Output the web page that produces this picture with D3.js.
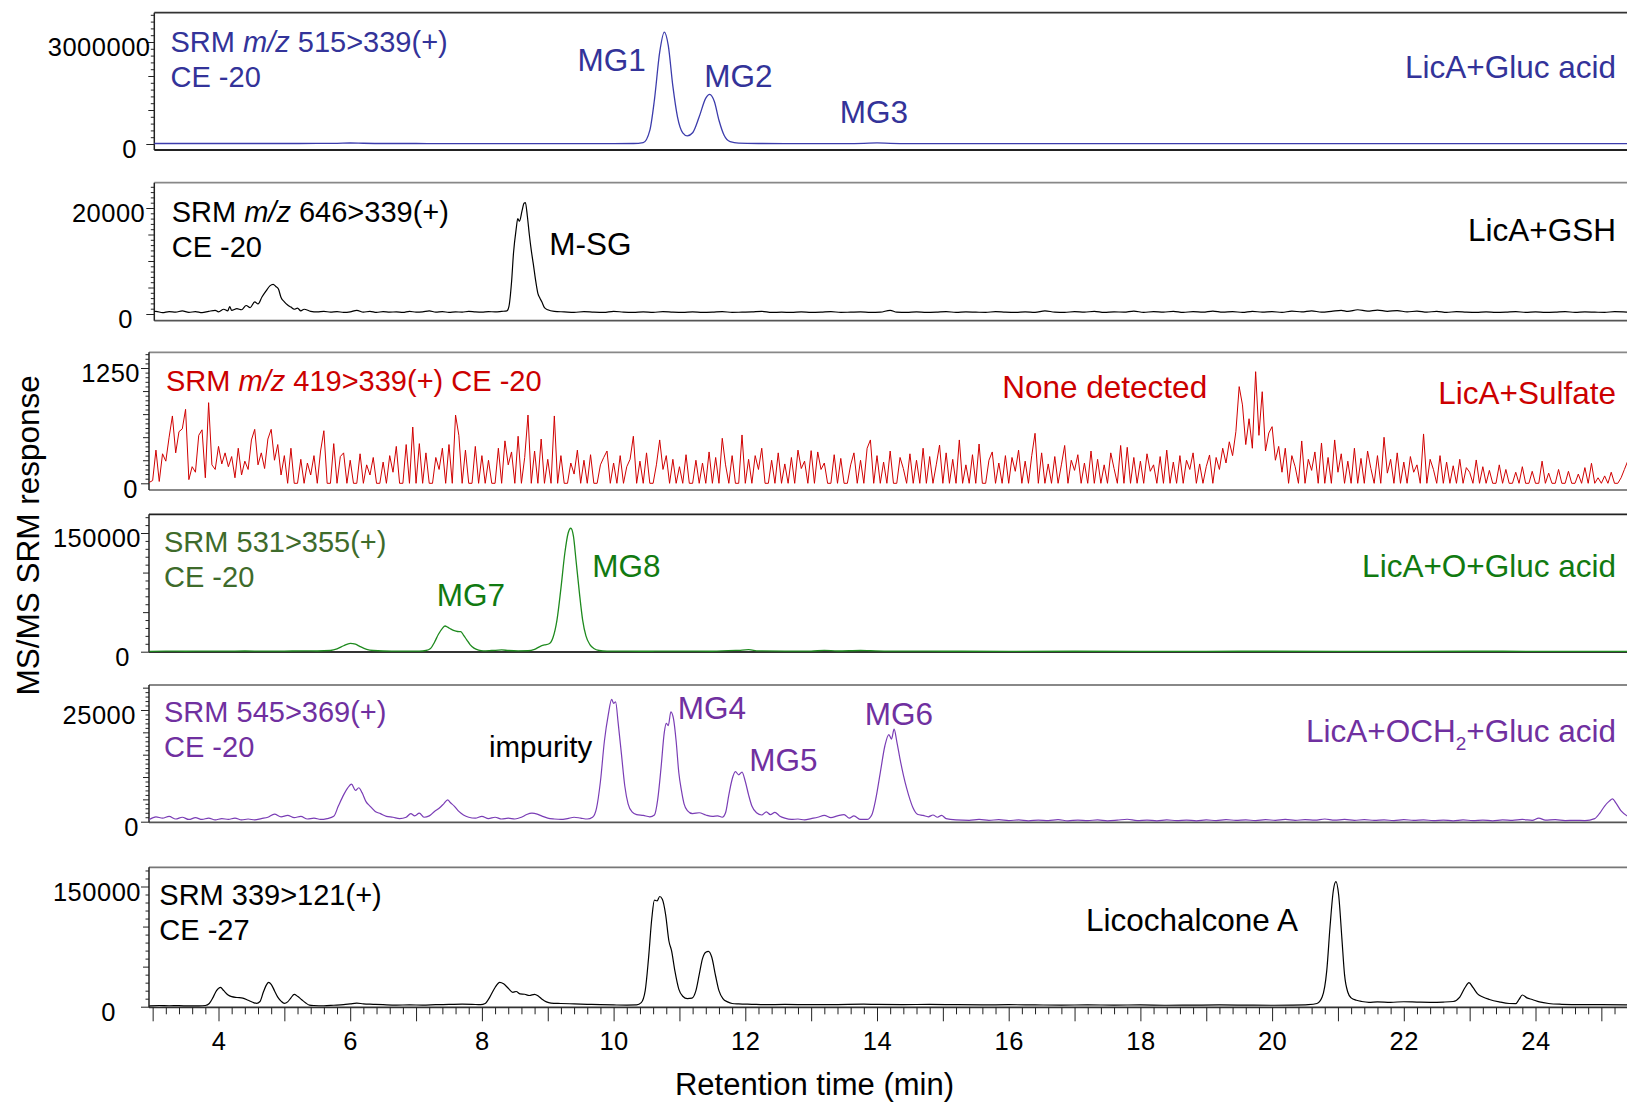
<!DOCTYPE html>
<html>
<head>
<meta charset="utf-8">
<script src="https://cdn.jsdelivr.net/npm/d3@7"></script>
<style>
  html, body { margin: 0; padding: 0; background: #fff; }
  svg { display: block; font-family: "Liberation Sans", Arial, Helvetica, sans-serif; }
</style>
</head>
<body>
<svg id="chart" width="1627" height="1103"></svg>
<script>
// cromatogramas srm: [tempo (min), intensidade]
const glucTrace = [
  [2.95, 15000], [3.5, 14000], [4.0, 15000], [4.5, 14000], [5.0, 15000], [5.5, 16000], [5.8, 20000], [6.0, 30000],
  [6.2, 22000], [6.5, 15000], [7.0, 14000], [7.5, 13000], [8.0, 13000], [8.5, 13000], [9.0, 13000], [9.5, 13000],
  [10.0, 13000], [10.3, 14000], [10.45, 40000], [10.55, 400000], [10.62, 1300000], [10.7, 2700000], [10.77, 3290000],
  [10.83, 2900000], [10.9, 1700000], [10.97, 800000], [11.05, 330000], [11.12, 240000], [11.2, 330000], [11.3, 800000],
  [11.4, 1350000], [11.46, 1460000], [11.53, 1250000], [11.6, 700000], [11.68, 250000], [11.77, 70000], [11.9, 25000],
  [12.2, 15000], [12.6, 12000], [13.0, 12000], [13.5, 13000], [13.8, 20000], [14.0, 32000], [14.2, 20000], [14.5, 12000],
  [15, 10000], [16, 10000], [18, 9000], [20, 9000], [22, 9000], [24, 9000], [25.4, 9000]
];

const gshTrace = [
  [2.95, 300], [3.05, 500], [3.15, 250], [3.25, 450], [3.35, 350], [3.45, 600], [3.55, 300], [3.65, 450], [3.75, 250],
  [3.85, 500], [3.95, 700], [4.0, 400], [4.08, 900], [4.14, 600], [4.17, 1400], [4.2, 700], [4.28, 1000], [4.35, 800],
  [4.42, 1600], [4.48, 1200], [4.55, 2300], [4.6, 1900], [4.66, 3200], [4.72, 4300], [4.78, 5300], [4.83, 5600],
  [4.87, 5200], [4.91, 4700], [4.95, 3100], [5.0, 2300], [5.05, 1700], [5.1, 1300], [5.15, 900], [5.2, 1100], [5.25, 600],
  [5.3, 900], [5.4, 500], [5.5, 400], [5.6, 500], [5.7, 350], [5.8, 450], [5.9, 300], [6.0, 400], [6.1, 700], [6.2, 350],
  [6.3, 500], [6.4, 300], [6.5, 450], [6.6, 350], [6.7, 400], [6.8, 300], [6.9, 500], [7.0, 350], [7.1, 400], [7.2, 600],
  [7.3, 350], [7.4, 450], [7.5, 300], [7.6, 400], [7.7, 350], [7.8, 500], [7.9, 400], [8.0, 350], [8.1, 450], [8.2, 400],
  [8.3, 500], [8.38, 600], [8.41, 1400], [8.45, 6000], [8.48, 11500], [8.52, 16000], [8.545, 18000], [8.57, 17500],
  [8.61, 19500], [8.64, 20900], [8.66, 21000], [8.69, 18500], [8.72, 15000], [8.75, 12000], [8.78, 9500], [8.82, 6000],
  [8.85, 3900], [8.88, 3000], [8.91, 2300], [8.95, 1200], [9.0, 800], [9.1, 500], [9.25, 400], [9.4, 300], [9.55, 450],
  [9.7, 350], [9.85, 300], [10.0, 500], [10.15, 350], [10.3, 300], [10.45, 400], [10.6, 300], [10.75, 450], [10.9, 350],
  [11.05, 300], [11.2, 400], [11.35, 300], [11.5, 350], [11.65, 450], [11.8, 300], [11.95, 350], [12.1, 400], [12.25, 500],
  [12.4, 300], [12.55, 350], [12.7, 300], [12.85, 400], [13.0, 300], [13.15, 350], [13.3, 450], [13.45, 300], [13.6, 350],
  [13.75, 400], [13.9, 300], [14.05, 350], [14.2, 700], [14.3, 350], [14.45, 300], [14.6, 400], [14.75, 300], [14.9, 350],
  [15.05, 450], [15.2, 300], [15.35, 400], [15.5, 350], [15.65, 300], [15.8, 450], [15.95, 350], [16.1, 300], [16.25, 400],
  [16.4, 300], [16.55, 600], [16.7, 350], [16.85, 300], [17.0, 450], [17.15, 350], [17.3, 500], [17.45, 300], [17.6, 400],
  [17.75, 350], [17.9, 550], [18.05, 300], [18.2, 450], [18.35, 350], [18.5, 500], [18.65, 300], [18.8, 450], [18.95, 350],
  [19.1, 550], [19.25, 350], [19.4, 450], [19.55, 300], [19.7, 500], [19.85, 350], [20.0, 450], [20.15, 300], [20.3, 550],
  [20.45, 400], [20.6, 600], [20.75, 350], [20.9, 500], [21.05, 700], [21.15, 500], [21.3, 800], [21.45, 550], [21.6, 750],
  [21.75, 500], [21.9, 650], [22.05, 400], [22.2, 550], [22.35, 350], [22.5, 500], [22.65, 300], [22.8, 450], [22.95, 350],
  [23.1, 300], [23.25, 400], [23.4, 300], [23.55, 350], [23.7, 450], [23.85, 300], [24.0, 400], [24.15, 300], [24.3, 350],
  [24.45, 450], [24.6, 300], [24.75, 400], [24.9, 350], [25.05, 300], [25.2, 450], [25.4, 350]
];

// sulfato: sinal amostrado a cada 0.05 min a partir de 2.95
const SULFATE_T0 = 2.95;
const SULFATE_STEP = 0.05;
const sulfateValues = [
  10,
  30, 360, 20, 320, 240, 500, 730, 330, 560, 590, 802, 40, 180, 120, 520, 580, 60, 874, 200, 150,
  400, 210, 330, 180, 290, 60, 380, 90, 240, 150, 470, 585, 200, 330, 160, 480, 585, 250, 420, 90,
  300, 0, 380, 0, 0, 260, 0, 220, 90, 300, 0, 350, 570, 0, 0, 430, 0, 290, 330, 0,
  250, 0, 0, 320, 0, 200, 90, 280, 0, 0, 230, 0, 300, 120, 400, 0, 0, 420, 0, 610,
  0, 430, 0, 330, 0, 0, 280, 150, 380, 0, 420, 0, 740, 520, 0, 360, 0, 0, 400, 0,
  300, 0, 250, 0, 0, 380, 0, 460, 200, 340, 0, 510, 0, 280, 740, 0, 350, 0, 480, 0,
  260, 0, 730, 0, 300, 0, 0, 220, 100, 360, 0, 250, 0, 310, 0, 0, 200, 280, 350, 0,
  220, 0, 300, 0, 180, 260, 510, 0, 240, 0, 330, 0, 0, 200, 470, 150, 300, 0, 260, 0,
  180, 0, 310, 0, 0, 250, 0, 220, 0, 340, 0, 280, 0, 488, 200, 0, 300, 0, 0, 524,
  0, 260, 0, 300, 150, 380, 0, 0, 250, 0, 330, 0, 210, 0, 280, 0, 360, 160, 240, 0,
  354, 0, 340, 150, 220, 0, 0, 310, 0, 270, 0, 0, 200, 330, 0, 250, 0, 380, 470, 0,
  300, 0, 230, 0, 350, 0, 0, 280, 160, 0, 320, 0, 250, 0, 380, 0, 290, 0, 200, 415,
  0, 330, 0, 260, 0, 470, 0, 200, 0, 310, 0, 426, 0, 0, 250, 340, 0, 220, 0, 300,
  0, 280, 130, 360, 0, 240, 0, 300, 542, 0, 330, 0, 210, 0, 290, 0, 200, 410, 0, 250,
  140, 310, 0, 220, 0, 350, 0, 260, 0, 200, 0, 330, 160, 0, 410, 0, 390, 0, 280, 0,
  240, 0, 320, 130, 200, 0, 290, 0, 360, 0, 230, 0, 300, 0, 250, 150, 330, 0, 210, 0,
  180, 307, 0, 280, 150, 380, 220, 450, 300, 560, 1048, 850, 420, 700, 380, 1210, 520, 993, 350, 545,
  614, 250, 400, 120, 380, 0, 300, 180, 0, 459, 0, 260, 140, 340, 0, 437, 0, 280, 0, 470,
  120, 320, 0, 240, 0, 380, 0, 270, 0, 350, 160, 0, 300, 0, 499, 110, 260, 0, 330, 0,
  230, 0, 290, 120, 200, 0, 535, 0, 260, 150, 0, 300, 0, 230, 0, 190, 0, 260, 0, 170,
  120, 0, 253, 0, 180, 0, 140, 0, 0, 200, 0, 150, 0, 0, 120, 0, 180, 0, 0, 130,
  0, 0, 240, 0, 110, 0, 0, 150, 0, 0, 130, 0, 0, 100, 0, 170, 0, 217, 0, 60,
  0, 80, 0, 120, 0, 0, 60, 150, 240
];

const oxGlucTrace = [
  [2.95, 500], [3.2, 700], [3.5, 600], [3.8, 800], [4.1, 600], [4.4, 900], [4.7, 700], [5.0, 800], [5.3, 1000],
  [5.5, 900], [5.7, 1500], [5.8, 3500], [5.9, 7500], [6.0, 10600], [6.08, 9500], [6.15, 6500], [6.25, 3000], [6.35, 1500],
  [6.5, 900], [6.7, 800], [6.9, 700], [7.05, 800], [7.15, 1500], [7.22, 4000], [7.28, 12000], [7.34, 22000], [7.4, 29500],
  [7.44, 32500], [7.48, 31000], [7.53, 28500], [7.58, 26500], [7.63, 25500], [7.68, 25300], [7.72, 21000], [7.77, 15000],
  [7.82, 9000], [7.88, 4500], [7.95, 2000], [8.02, 1000], [8.15, 1500], [8.3, 2200], [8.4, 1500], [8.55, 1000], [8.7, 1200],
  [8.8, 3000], [8.88, 6500], [8.95, 8500], [9.02, 10000], [9.08, 18000], [9.14, 40000], [9.2, 80000], [9.26, 125000],
  [9.31, 150000], [9.35, 156000], [9.39, 146000], [9.43, 115000], [9.48, 75000], [9.53, 40000], [9.58, 20000],
  [9.64, 9000], [9.7, 4000], [9.78, 1500], [9.9, 800], [10.2, 600], [10.6, 600], [11.0, 700], [11.5, 600], [11.9, 1800],
  [12.05, 2500], [12.2, 1000], [12.6, 700], [13.0, 800], [13.2, 1600], [13.4, 900], [13.75, 1500], [13.9, 1200],
  [14.2, 700], [15, 600], [16, 500], [17, 600], [18, 500], [19, 500], [20, 600], [21, 500], [22, 500], [23, 600],
  [24, 500], [25.4, 500]
];

const och2GlucTrace = [
  [2.95, 500], [3.05, 1100], [3.15, 800], [3.25, 1200], [3.35, 600], [3.45, 1000], [3.55, 500], [3.65, 900],
  [3.75, 500], [3.85, 800], [3.95, 400], [4.05, 700], [4.15, 500], [4.25, 800], [4.35, 400], [4.45, 600], [4.55, 400],
  [4.65, 700], [4.75, 1000], [4.85, 1700], [4.95, 1100], [5.05, 1400], [5.15, 900], [5.25, 1200], [5.35, 600],
  [5.45, 800], [5.55, 500], [5.65, 700], [5.75, 1200], [5.82, 3500], [5.9, 6000], [5.96, 7500], [6.02, 8400],
  [6.08, 7000], [6.13, 7600], [6.18, 6500], [6.24, 4500], [6.3, 3500], [6.38, 2300], [6.46, 1800], [6.55, 1200],
  [6.65, 1000], [6.75, 700], [6.85, 1000], [6.92, 1800], [6.98, 1300], [7.05, 1900], [7.12, 1000], [7.2, 1300],
  [7.28, 2300], [7.35, 3000], [7.42, 4000], [7.48, 4900], [7.52, 4300], [7.58, 3500], [7.65, 2300], [7.72, 1500],
  [7.8, 1000], [7.9, 800], [8.0, 1200], [8.1, 700], [8.2, 1000], [8.3, 600], [8.4, 800], [8.5, 600], [8.6, 1000],
  [8.68, 1600], [8.76, 1900], [8.84, 1700], [8.92, 1200], [9.0, 800], [9.1, 600], [9.2, 500], [9.3, 700], [9.4, 1000],
  [9.5, 800], [9.6, 600], [9.68, 1000], [9.74, 3000], [9.8, 9000], [9.86, 18000], [9.92, 24000], [9.97, 27400],
  [10.0, 26500], [10.03, 26800], [10.07, 22000], [10.12, 15000], [10.17, 8000], [10.22, 4000], [10.28, 2200],
  [10.35, 1600], [10.45, 1400], [10.55, 1100], [10.62, 1500], [10.67, 5000], [10.72, 12000], [10.77, 20000],
  [10.8, 22000], [10.83, 21500], [10.87, 24600], [10.91, 23000], [10.95, 18000], [10.99, 11000], [11.03, 7000],
  [11.07, 4000], [11.12, 2500], [11.2, 1800], [11.3, 2000], [11.4, 1500], [11.5, 1200], [11.58, 1300], [11.65, 1000],
  [11.7, 2000], [11.75, 6000], [11.8, 9500], [11.85, 11200], [11.9, 10500], [11.95, 11100], [12.0, 9000], [12.05, 6000],
  [12.1, 3500], [12.17, 2000], [12.25, 1500], [12.32, 2200], [12.38, 1600], [12.45, 2100], [12.52, 1300], [12.6, 800],
  [12.7, 500], [12.8, 600], [12.9, 400], [13.0, 700], [13.1, 1000], [13.2, 1400], [13.3, 900], [13.4, 1300], [13.5, 1600],
  [13.58, 800], [13.65, 1300], [13.75, 500], [13.85, 500], [13.92, 1500], [13.98, 5000], [14.05, 11000], [14.12, 17000],
  [14.18, 19500], [14.22, 18500], [14.26, 20700], [14.3, 18000], [14.35, 14000], [14.4, 10500], [14.45, 7500],
  [14.5, 5000], [14.55, 3000], [14.62, 1600], [14.7, 1400], [14.78, 1100], [14.85, 1500], [14.92, 1000], [14.98, 1400],
  [15.05, 700], [15.2, 400], [15.4, 300], [15.55, 500], [15.7, 300], [15.85, 450], [16.0, 250], [16.15, 400], [16.3, 200],
  [16.45, 350], [16.6, 250], [16.75, 450], [16.9, 200], [17.05, 350], [17.2, 250], [17.35, 400], [17.5, 200], [17.65, 350],
  [17.8, 550], [17.95, 250], [18.1, 350], [18.25, 200], [18.4, 400], [18.55, 250], [18.7, 350], [18.85, 200], [19.0, 400],
  [19.15, 250], [19.3, 450], [19.45, 300], [19.6, 400], [19.75, 250], [19.9, 450], [20.05, 300], [20.2, 500], [20.35, 300],
  [20.5, 450], [20.65, 350], [20.8, 600], [20.95, 350], [21.1, 500], [21.25, 300], [21.4, 450], [21.55, 300], [21.7, 400],
  [21.85, 250], [22.0, 450], [22.15, 300], [22.3, 400], [22.45, 250], [22.6, 350], [22.75, 200], [22.9, 400], [23.05, 250],
  [23.2, 350], [23.35, 200], [23.5, 400], [23.65, 300], [23.8, 500], [23.95, 300], [24.05, 800], [24.15, 350], [24.3, 450],
  [24.45, 250], [24.6, 300], [24.75, 250], [24.9, 700], [24.98, 2000], [25.05, 3500], [25.12, 4600], [25.17, 5100],
  [25.22, 4200], [25.3, 2400], [25.4, 1200]
];

const licaTrace = [
  [2.95, 1000], [3.1, 1500], [3.25, 1200], [3.4, 1300], [3.55, 1000], [3.7, 1100], [3.8, 1500], [3.86, 4000],
  [3.92, 12000], [3.97, 20000], [4.03, 24200], [4.08, 20000], [4.14, 15000], [4.2, 12500], [4.28, 11500], [4.37, 10800],
  [4.45, 8000], [4.52, 5500], [4.58, 4200], [4.63, 6500], [4.68, 18000], [4.72, 26000], [4.76, 30400], [4.8, 28000],
  [4.85, 20000], [4.9, 12000], [4.95, 7000], [5.0, 4200], [5.05, 6000], [5.1, 11000], [5.15, 15400], [5.2, 13000],
  [5.26, 9000], [5.32, 5000], [5.38, 2000], [5.45, 1500], [5.6, 1200], [5.75, 1800], [5.9, 2500], [6.0, 3500], [6.1, 4500],
  [6.2, 3500], [6.35, 3000], [6.5, 2500], [6.7, 2000], [6.9, 2300], [7.1, 2000], [7.3, 2500], [7.5, 2800], [7.7, 3200],
  [7.85, 3000], [7.98, 2500], [8.05, 4000], [8.12, 12000], [8.2, 24000], [8.27, 30400], [8.33, 28500], [8.4, 23000],
  [8.47, 18000], [8.52, 19000], [8.58, 16000], [8.65, 15500], [8.72, 14000], [8.8, 15400], [8.86, 13000], [8.92, 9000],
  [8.98, 6000], [9.05, 4500], [9.2, 4000], [9.4, 3500], [9.6, 3000], [9.8, 2500], [10.0, 2200], [10.2, 2000], [10.35, 2200],
  [10.42, 5000], [10.48, 20000], [10.53, 60000], [10.58, 110000], [10.62, 133000], [10.66, 132000], [10.7, 137500],
  [10.74, 134000], [10.79, 115000], [10.84, 82000], [10.88, 70000], [10.93, 45000], [10.99, 22000], [11.05, 13000],
  [11.12, 10000], [11.19, 10600], [11.25, 20000], [11.3, 40000], [11.35, 60000], [11.4, 68000], [11.44, 69000],
  [11.49, 62000], [11.55, 38000], [11.6, 20000], [11.66, 10000], [11.73, 6000], [11.8, 4000], [11.9, 3500], [12.1, 3000],
  [12.3, 2500], [12.6, 2800], [13.0, 2500], [13.4, 2700], [13.8, 3200], [14.0, 2800], [14.4, 2600], [14.8, 2900],
  [15.2, 2500], [15.6, 2300], [16.0, 2500], [16.4, 2200], [16.8, 2000], [17.2, 2300], [17.6, 2000], [18.0, 2200],
  [18.4, 1800], [18.8, 2000], [19.2, 2200], [19.6, 2000], [20.0, 1800], [20.3, 2000], [20.55, 2600], [20.68, 4000],
  [20.76, 12000], [20.83, 45000], [20.88, 100000], [20.93, 145000], [20.97, 156000], [21.01, 140000], [21.06, 85000],
  [21.1, 40000], [21.15, 18000], [21.2, 11000], [21.28, 8000], [21.36, 6500], [21.47, 5500], [21.6, 6000], [21.8, 5500],
  [22.0, 6200], [22.2, 5800], [22.4, 5500], [22.6, 5800], [22.75, 6500], [22.85, 12000], [22.93, 24000], [22.99, 30000],
  [23.05, 24000], [23.12, 16000], [23.2, 12000], [23.3, 9000], [23.45, 6000], [23.6, 4000], [23.7, 3800], [23.75, 9000],
  [23.8, 14600], [23.87, 11000], [23.95, 9000], [24.06, 6000], [24.2, 4000], [24.4, 3000], [24.7, 2500], [25.0, 2500],
  [25.4, 2200]
];

// rotulos do eixo
const X_LABELED = [4, 6, 8, 10, 12, 14, 16, 18, 20, 22, 24];
const Y_TOP_TICKS = [3000000, 20000, 1250, 150000, 25000, 150000];

const FONT_TICK = 25.5;
const FONT_SRM = 29;
const FONT_NOTE = 31.5;
const BOX_RIGHT = 1640;

const BLUE = "#333399";
const RED = "#cc0000";
const GREEN_DARK = "#3e6b2b";
const GREEN = "#117a11";
const PURPLE = "#7030a0";

const sulfateTrace = sulfateValues.map((v, i) => [SULFATE_T0 + i * SULFATE_STEP, v]);

const x = d3.scaleLinear().domain([4, 24]).range([218.5, 1535.5]);

const PANELS = [
  { data: glucTrace, left: 154.3, top: 12.7, bottom: 150, zero: 144, tickY: 42, minor: 200000, mid: 1000000,
    topLabelRight: 150.5, zeroLabelRight: 137, color: "#3c3cac", lw: 1.3, topStroke: "#333", bottomStroke: "#222" },
  { data: gshTrace, left: 154.3, top: 182.7, bottom: 320.7, zero: 314, tickY: 208, minor: 1000, mid: 5000,
    topLabelRight: 145.3, zeroLabelRight: 133, color: "#000", lw: 1.2, topStroke: "#888", bottomStroke: "#555" },
  { data: sulfateTrace, left: 149, top: 352.3, bottom: 490, zero: 483.3, tickY: 368, minor: 50, mid: 250,
    topLabelRight: 140, zeroLabelRight: 138, color: "#d00000", lw: 1.0, topStroke: "#888", bottomStroke: "#888",
    linear: true },
  { data: oxGlucTrace, left: 149, top: 514.3, bottom: 652, zero: 651.7, tickY: 533, minor: 10000, mid: 50000,
    topLabelRight: 141, zeroLabelRight: 130, color: "#1e8a1e", lw: 1.3, topStroke: "#222", bottomStroke: "#333" },
  { data: och2GlucTrace, left: 149, top: 685, bottom: 822.3, zero: 821.7, tickY: 710, minor: 1000, mid: 5000,
    topLabelRight: 136, zeroLabelRight: 139, color: "#7a3db5", lw: 1.2, topStroke: "#888", bottomStroke: "#555" },
  { data: licaTrace, left: 149, top: 867.3, bottom: 1007.3, zero: 1006.7, tickY: 886.5, minor: 10000, mid: 50000,
    topLabelRight: 141, zeroLabelRight: 116, color: "#000", lw: 1.2, topStroke: "#777", bottomStroke: "#333",
    xAxis: true }
];

// textos de cada painel (x em px ou tempo de retencao em "at")
const NOTES = [
  { x: 170.5, y: 52, fill: BLUE, size: FONT_SRM, parts: [["SRM "], ["m/z", "italic"], [" 515>339(+)"]] },
  { x: 170.5, y: 87.3, fill: BLUE, size: FONT_SRM, parts: [["CE -20"]] },
  { at: 9.97, y: 70.7, fill: BLUE, anchor: "middle", parts: [["MG1"]] },
  { at: 11.895, y: 86.7, fill: BLUE, anchor: "middle", parts: [["MG2"]] },
  { at: 13.954, y: 123.3, fill: BLUE, anchor: "middle", parts: [["MG3"]] },
  { x: 1616, y: 78.3, fill: BLUE, anchor: "end", parts: [["LicA+Gluc acid"]] },

  { x: 171.7, y: 221.7, fill: "#000", size: FONT_SRM, parts: [["SRM "], ["m/z", "italic"], [" 646>339(+)"]] },
  { x: 171.7, y: 257.3, fill: "#000", size: FONT_SRM, parts: [["CE -20"]] },
  { at: 9.648, y: 255, fill: "#000", anchor: "middle", parts: [["M-SG"]] },
  { x: 1616, y: 240.7, fill: "#000", anchor: "end", parts: [["LicA+GSH"]] },

  { x: 166, y: 391, fill: RED, size: FONT_SRM, parts: [["SRM "], ["m/z", "italic"], [" 419>339(+) CE -20"]] },
  { at: 17.458, y: 398.3, fill: RED, anchor: "middle", parts: [["None detected"]] },
  { x: 1616, y: 404, fill: RED, anchor: "end", parts: [["LicA+Sulfate"]] },

  { x: 164, y: 551.7, fill: GREEN_DARK, size: FONT_SRM, parts: [["SRM 531>355(+)"]] },
  { x: 164, y: 586.7, fill: GREEN_DARK, size: FONT_SRM, parts: [["CE -20"]] },
  { at: 7.834, y: 606, fill: GREEN, anchor: "middle", parts: [["MG7"]] },
  { at: 10.193, y: 576.7, fill: GREEN, anchor: "middle", parts: [["MG8"]] },
  { x: 1616, y: 577.3, fill: GREEN, anchor: "end", parts: [["LicA+O+Gluc acid"]] },

  { x: 164, y: 721.7, fill: PURPLE, size: FONT_SRM, parts: [["SRM 545>369(+)"]] },
  { x: 164, y: 756.7, fill: PURPLE, size: FONT_SRM, parts: [["CE -20"]] },
  { at: 8.891, y: 757.3, fill: "#000", anchor: "middle", size: 29.5, parts: [["impurity"]] },
  { at: 11.491, y: 719.3, fill: PURPLE, anchor: "middle", parts: [["MG4"]] },
  { at: 12.58, y: 770.7, fill: PURPLE, anchor: "middle", parts: [["MG5"]] },
  { at: 14.334, y: 725, fill: PURPLE, anchor: "middle", parts: [["MG6"]] },
  { x: 1616, y: 741.7, fill: PURPLE, anchor: "end", parts: [["LicA+OCH"], ["2", "sub"], ["+Gluc acid"]] },

  { x: 159.3, y: 905, fill: "#000", size: FONT_SRM, parts: [["SRM 339>121(+)"]] },
  { x: 159.3, y: 940, fill: "#000", size: FONT_SRM, parts: [["CE -27"]] },
  { at: 18.783, y: 930.7, fill: "#000", anchor: "middle", parts: [["Licochalcone A"]] }
];

const svg = d3.select("#chart");
const defs = svg.append("defs");

PANELS.forEach((p, i) => drawPanel(p, i));
drawNotes();
drawTitles();

function drawPanel(p, i) {
  const topValue = Y_TOP_TICKS[i];
  const y = d3.scaleLinear().domain([0, topValue]).range([p.zero, p.tickY]);
  const yMax = y.invert(p.top);
  const g = svg.append("g");

  // caixa do painel (lado direito fica fora da imagem, como no original)
  g.append("line").attr("x1", p.left).attr("x2", BOX_RIGHT).attr("y1", p.top).attr("y2", p.top)
    .attr("stroke", p.topStroke).attr("stroke-width", 1.8);
  g.append("line").attr("x1", p.left).attr("x2", BOX_RIGHT).attr("y1", p.bottom).attr("y2", p.bottom)
    .attr("stroke", p.bottomStroke).attr("stroke-width", 1.8);
  g.append("line").attr("x1", p.left).attr("x2", p.left).attr("y1", p.top).attr("y2", p.bottom)
    .attr("stroke", "#222").attr("stroke-width", 1.5);

  const minorVals = d3.range(0, yMax, p.minor).filter((v) => Math.abs(v % p.mid) > 1e-6);
  const midVals = d3.range(0, yMax, p.mid).filter((v) => v !== 0 && v !== topValue);

  const axisG = g.append("g").attr("transform", `translate(${p.left},0)`);
  axisG.append("g").call(d3.axisLeft(y).tickValues(minorVals).tickSize(3.5).tickFormat(""));
  axisG.append("g").call(d3.axisLeft(y).tickValues(midVals).tickSize(6).tickFormat(""));
  axisG.append("g").call(d3.axisLeft(y).tickValues([0, topValue]).tickSize(8).tickFormat(d3.format("d")))
    .call((a) => a.selectAll("text")
      .attr("x", (d) => (d === 0 ? p.zeroLabelRight : p.topLabelRight) - p.left)
      .attr("y", 5)
      .attr("dy", "0.35em")
      .attr("fill", "#000")
      .attr("font-size", FONT_TICK)
      .attr("letter-spacing", 0.5)
      .attr("font-family", null));
  axisG.selectAll(".domain").remove();
  axisG.selectAll(".tick line").attr("stroke", "#222").attr("stroke-width", 1);

  const clipId = `clip${i}`;
  defs.append("clipPath").attr("id", clipId).append("rect")
    .attr("x", p.left).attr("y", p.top).attr("width", BOX_RIGHT - p.left).attr("height", p.bottom - p.top);

  const line = d3.line()
    .x((d) => x(d[0]))
    .y((d) => y(d[1]))
    .curve(p.linear ? d3.curveLinear : d3.curveMonotoneX);

  g.append("path")
    .datum(p.data)
    .attr("clip-path", `url(#${clipId})`)
    .attr("fill", "none")
    .attr("stroke", p.color)
    .attr("stroke-width", p.lw)
    .attr("stroke-linejoin", "round")
    .attr("d", line);

  if (p.xAxis) drawXAxis(p);
}

function drawXAxis(p) {
  const t0 = x.invert(p.left);
  const t1 = x.invert(BOX_RIGHT);
  const minorTicks = d3.range(Math.ceil(t0 * 5), Math.floor(t1 * 5) + 1).map((k) => k / 5).filter((t) => Math.abs(t - Math.round(t)) > 1e-6);
  const intTicks = d3.range(Math.ceil(t0), Math.floor(t1) + 1);

  const g = svg.append("g").attr("transform", `translate(0,${p.bottom})`);
  g.append("g").call(d3.axisBottom(x).tickValues(minorTicks).tickSize(7).tickFormat(""));
  g.append("g").call(d3.axisBottom(x).tickValues(intTicks).tickSize(14)
    .tickFormat((d) => (X_LABELED.includes(d) ? d : "")))
    .call((a) => a.selectAll("text")
      .attr("y", 33.7)
      .attr("dy", "0.35em")
      .attr("fill", "#000")
      .attr("font-size", FONT_TICK)
      .attr("letter-spacing", 0.5)
      .attr("font-family", null));
  g.selectAll(".domain").remove();
  g.selectAll(".tick line").attr("stroke", "#222").attr("stroke-width", 1);
}

function drawNotes() {
  const g = svg.append("g");
  NOTES.forEach((n) => {
    const t = g.append("text")
      .attr("x", n.at !== undefined ? x(n.at) : n.x)
      .attr("y", n.y)
      .attr("fill", n.fill)
      .attr("font-size", n.size || FONT_NOTE)
      .attr("text-anchor", n.anchor || "start");
    n.parts.forEach(([txt, kind]) => {
      const s = t.append("tspan").text(txt);
      if (kind === "italic") s.attr("font-style", "italic");
      if (kind === "sub") s.attr("font-size", 19).attr("dy", 8.3);
      if (t.node().childNodes.length > 1 && !kind && n.parts.some((q) => q[1] === "sub")) s.attr("dy", -8.3);
    });
  });
}

function drawTitles() {
  svg.append("text")
    .attr("x", 814.5)
    .attr("y", 1095)
    .attr("text-anchor", "middle")
    .attr("font-size", 31)
    .text("Retention time (min)");
  svg.append("text")
    .attr("transform", "translate(39.4,535.4) rotate(-90)")
    .attr("text-anchor", "middle")
    .attr("font-size", 31.5)
    .text("MS/MS SRM response");
}
</script>
</body>
</html>
